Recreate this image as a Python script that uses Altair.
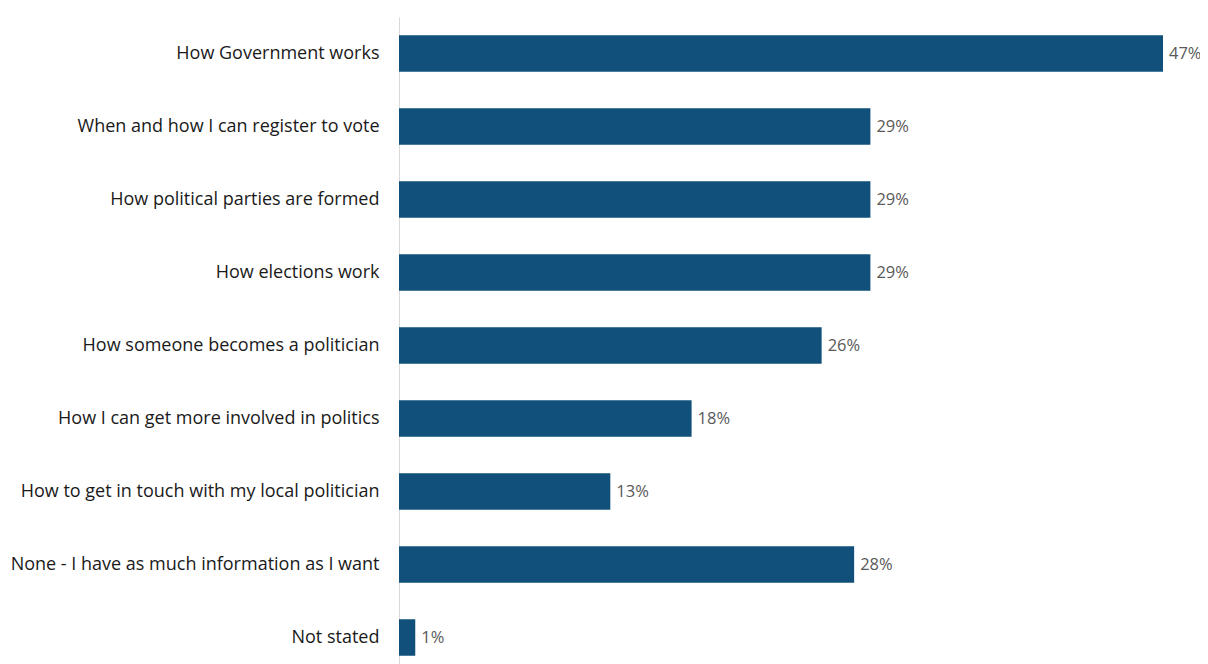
import altair as alt
import pandas as pd

categories = [
    "How Government works",
    "When and how I can register to vote",
    "How political parties are formed",
    "How elections work",
    "How someone becomes a politician",
    "How I can get more involved in politics",
    "How to get in touch with my local politician",
    "None - I have as much information as I want",
    "Not stated",
]
values = [47, 29, 29, 29, 26, 18, 13, 28, 1]

df = pd.DataFrame({"category": categories, "value": values})
df["label"] = df["value"].astype(str) + "%"

FONT = "Open Sans"

base = alt.Chart(df).encode(
    y=alt.Y(
        "category:N",
        sort=categories,
        scale=alt.Scale(paddingInner=0.5, paddingOuter=0.25),
        axis=alt.Axis(
            title=None,
            ticks=False,
            grid=False,
            domain=True,
            domainColor="#D9D9D9",
            domainWidth=1,
            labelFont=FONT,
            labelFontSize=18,
            labelColor="#1a1a1a",
            labelPadding=20,
            labelLimit=0,
        ),
    ),
    x=alt.X(
        "value:Q",
        scale=alt.Scale(domain=[0, 47], nice=False),
        axis=None,
    ),
)

bars = base.mark_bar(color="#10507A")
text = base.mark_text(
    align="left", baseline="middle", dx=6, font=FONT, fontSize=16.5, color="#595959"
).encode(text="label:N")

chart = (
    alt.layer(bars, text, view=alt.ViewBackground(stroke="transparent", strokeWidth=0))
    .properties(
        width=764,
        height=657,
        padding={"left": 391, "top": 9, "right": 37, "bottom": 0},
        autosize=alt.AutoSizeParams(type="none"),
    )
    .configure_view(strokeWidth=0, strokeOpacity=0, stroke="transparent")
    .configure(background="white", style={"cell": {"stroke": "transparent", "strokeWidth": 0}})
)

chart.save("out.html", embed_options={"renderer": "svg", "actions": False})
